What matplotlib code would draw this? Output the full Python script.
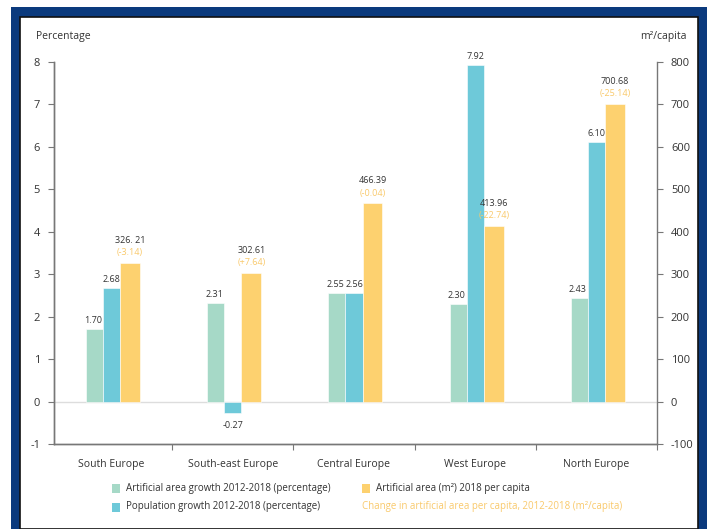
import matplotlib.pyplot as plt
import numpy as np
from matplotlib.patches import Rectangle

plt.rcParams['font.family'] = ['Open Sans', 'DejaVu Sans']
plt.rcParams['axes.unicode_minus'] = False

regions = ['South Europe', 'South-east Europe', 'Central Europe', 'West Europe', 'North Europe']
area_growth = [1.70, 2.31, 2.55, 2.30, 2.43]
pop_growth = [2.68, -0.27, 2.56, 7.92, 6.10]
area_per_capita = [326.21, 302.61, 466.39, 413.96, 700.68]
area_labels = ['326. 21', '302.61', '466.39', '413.96', '700.68']
change_labels = ['(-3.14)', '(+7.64)', '(-0.04)', '(-22.74)', '(-25.14)']

GREEN = '#a6d9c7'
BLUE = '#6ec9d9'
YELLOW = '#fdd16f'
ORANGE = '#f9c96b'
TEXT = '#333333'
SPINE = '#777777'

W, H = 707, 529
fig = plt.figure(figsize=(W / 100, H / 100), dpi=100)

# frame around the chart
fig.patches.append(Rectangle((11 / W, 0), (707 - 11) / W, (H - 7) / H,
                             transform=fig.transFigure, facecolor='#0b3a7d',
                             edgecolor='none', zorder=-10))
fig.patches.append(Rectangle((20 / W, 0), (698 - 20) / W, (H - 17) / H,
                             transform=fig.transFigure, facecolor='white',
                             edgecolor='#111111', linewidth=1.2, zorder=-9))


def px(x0, y0, x1, y1):
    return [x0 / W, 1 - y1 / H, (x1 - x0) / W, (y1 - y0) / H]


ax = fig.add_axes(px(54, 61.7, 657, 444))
ax.patch.set_alpha(0)
ax2 = ax.twinx()

x = np.arange(len(regions))
ax.axhline(0, color='#dddddd', linewidth=1, zorder=0)
ax.bar(x - 0.141, area_growth, width=0.139, color=GREEN, edgecolor='white', linewidth=0.4, zorder=2)
ax.bar(x, pop_growth, width=0.143, color=BLUE, edgecolor='white', linewidth=0.4, zorder=2)
ax2.bar(x + 0.153, area_per_capita, width=0.163, color=YELLOW, edgecolor='white', linewidth=0.4, zorder=2)

ax.set_xlim(-0.475, 4.45)
ax.set_ylim(-1, 8)
ax2.set_ylim(-100, 800)
ax.set_yticks(range(-1, 9))
ax2.set_yticks(range(-100, 801, 100))

fs = 6.5
for i in x:
    ax.annotate(f'{area_growth[i]:.2f}', (i - 0.141, area_growth[i]), xytext=(-1, 3),
                textcoords='offset points', ha='center', va='bottom', fontsize=fs, color=TEXT)
    v = pop_growth[i]
    if v >= 0:
        ax.annotate(f'{v:.2f}', (i, v), xytext=(0, 3), textcoords='offset points',
                    ha='center', va='bottom', fontsize=fs, color=TEXT)
    else:
        ax.annotate(f'{v:.2f}', (i, v), xytext=(0, -6), textcoords='offset points',
                    ha='center', va='top', fontsize=fs, color=TEXT)
    ax2.annotate(change_labels[i], (i + 0.153, area_per_capita[i]), xytext=(0, 4),
                 textcoords='offset points', ha='center', va='bottom', fontsize=fs, color=ORANGE)
    ax2.annotate(area_labels[i], (i + 0.153, area_per_capita[i]), xytext=(0, 13),
                 textcoords='offset points', ha='center', va='bottom', fontsize=fs, color=TEXT)

# x axis: ticks between groups, labels centered on groups
ax.set_xticks(x + 0.5, minor=False)
ax.set_xticklabels([])
ax.set_xticks(x, minor=True)
ax.set_xticklabels(regions, minor=True)
ax.tick_params(axis='x', which='major', length=4, color=SPINE, direction='out')
ax.tick_params(axis='x', which='minor', length=0, pad=11, labelsize=7.5, labelcolor=TEXT)
ax.tick_params(axis='y', length=4, color=SPINE, labelsize=8, labelcolor=TEXT, pad=6)
ax2.tick_params(axis='y', length=4, color=SPINE, labelsize=8, labelcolor=TEXT, pad=6)

for a in (ax, ax2):
    a.spines['top'].set_visible(False)
    for s in ('left', 'right', 'bottom'):
        a.spines[s].set_color(SPINE)
        a.spines[s].set_linewidth(1)
ax.spines['right'].set_visible(False)

fig.text(36 / W, 1 - 36 / H, 'Percentage', fontsize=7.5, color=TEXT, va='center', ha='left')
fig.text(687 / W, 1 - 36 / H, 'm²/capita', fontsize=7.5, color=TEXT, va='center', ha='right')

# legend
def legend_box(x0, yc, color):
    fig.patches.append(Rectangle((x0 / W, 1 - (yc + 4.5) / H), 8 / W, 9 / H,
                                 transform=fig.transFigure, facecolor=color, edgecolor='none'))

legend_box(112, 488, GREEN)
legend_box(112, 507, BLUE)
legend_box(362, 488, YELLOW)
fig.text(126 / W, 1 - 488 / H, 'Artificial area growth 2012-2018 (percentage)', fontsize=7, color=TEXT, va='center')
fig.text(126 / W, 1 - 507 / H, 'Population growth 2012-2018 (percentage)', fontsize=7, color=TEXT, va='center')
fig.text(376 / W, 1 - 488 / H, 'Artificial area (m²) 2018 per capita', fontsize=7, color=TEXT, va='center')
fig.text(362 / W, 1 - 507 / H, 'Change in artificial area per capita, 2012-2018 (m²/capita)', fontsize=7, color=ORANGE, va='center')

fig.savefig('out.png', dpi=100)
